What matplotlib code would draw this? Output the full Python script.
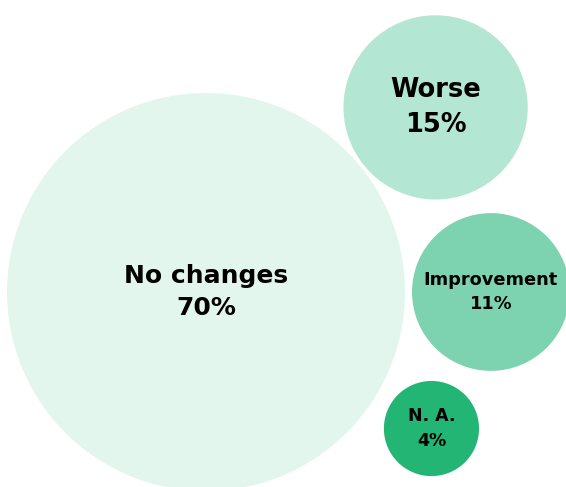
import numpy as np
import matplotlib
matplotlib.use("Agg")
import matplotlib.pyplot as plt
from matplotlib.patches import Circle

# data
labels = ["No changes", "Worse", "Improvement", "N. A."]
values = [70, 15, 11, 4]

# style / layout
colors = ["#E3F6EE", "#B3E6D3", "#7DD3AF", "#22B573"]
font_sizes = [18, 18.5, 12.8, 12.5]
angles = [None, -38.8, 0.0, 31.2]   # direction of small bubbles from the big one (deg)
gaps = [0, 3.5, 7, 17]              # space between bubble edges (px)

W, H = 566, 487
fig = plt.figure(figsize=(W / 100, H / 100), dpi=100)
ax = fig.add_axes([0, 0, 1, 1])
ax.set_xlim(0, W)
ax.set_ylim(H, 0)
ax.set_aspect("equal")
ax.axis("off")

# bubble area proportional to value
k = 199 / np.sqrt(max(values))
radii = [k * np.sqrt(v) for v in values]

big_c = np.array([206.0, 292.0])
centers = []
for i, r in enumerate(radii):
    if angles[i] is None:
        centers.append(big_c)
    else:
        a = np.deg2rad(angles[i])
        d = radii[0] + r + gaps[i]
        centers.append(big_c + d * np.array([np.cos(a), np.sin(a)]))

for lab, v, c, r, col, fs in zip(labels, values, centers, radii, colors, font_sizes):
    ax.add_patch(Circle(c, r, facecolor=col, edgecolor="none"))
    ax.text(c[0], c[1], f"{lab}\n{v}%", ha="center", va="center",
            fontsize=fs, fontweight="bold", color="#000000",
            linespacing=1.45, family="DejaVu Sans")

fig.savefig("out.png", dpi=100)
